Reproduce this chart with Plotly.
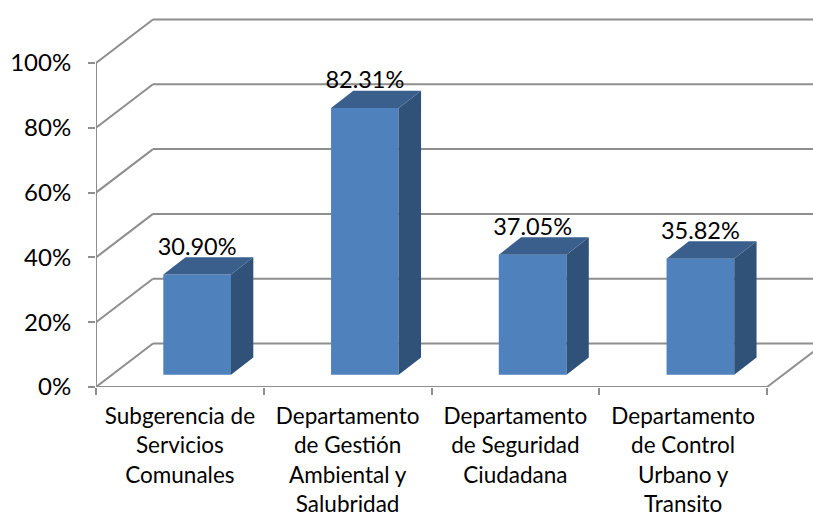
import plotly.graph_objects as go

categories = ["Subgerencia de<br>Servicios<br>Comunales",
              "Departamento<br>de Gestión<br>Ambiental y<br>Salubridad",
              "Departamento<br>de Seguridad<br>Ciudadana",
              "Departamento<br>de Control<br>Urbano y<br>Transito"]
values = [30.90, 82.31, 37.05, 35.82]
labels = ["30.90%", "82.31%", "37.05%", "35.82%"]
y_ticks = [0, 20, 40, 60, 80, 100]
y_tick_labels = ["0%", "20%", "40%", "60%", "80%", "100%"]

FONT = "Lato"
GRID = "#8E8E8E"
FRONT = "#4F81BD"
TOP = "#3A5F8C"
SIDE = "#315278"

n = len(categories)
W, H = 813, 516
L, T, B = 96, 10, 129
x_max = (W - L) / ((767 - L) / n)
y_max = (H - B - T) / 3.24
DX, DY = 57 / 167.75, 43.5 / 3.24
BX, BY = 22.3 / 167.75, 17.3 / 3.24
BAR_W = 67.7 / 167.75
BASE = 3.8
CENTER_SHIFT = 0.103
LABEL_GAP = 8.0


def seg(x0, y0, x1, y1, width=2):
    return dict(type="line", xref="x", yref="y", layer="below",
                x0=x0, y0=y0, x1=x1, y1=y1,
                line=dict(color=GRID, width=width))


shapes = []
for v in y_ticks:
    shapes.append(seg(0, v, DX, v + DY))
    shapes.append(seg(DX, v + DY, x_max + 1, v + DY))
shapes.append(seg(n, 0, n + DX, DY))
shapes.append(seg(0, 0, 0, y_ticks[-1]))
shapes.append(seg(0, 0, n, 0))

centers = [i + 0.5 + CENTER_SHIFT for i in range(n)]

fig = go.Figure()
fig.add_trace(go.Bar(x=centers, y=values, base=BASE,
                     width=BAR_W, marker=dict(color=FRONT, line=dict(width=0)),
                     showlegend=False, hoverinfo="skip"))

for c, v in zip(centers, values):
    x0, x1 = c - BAR_W / 2, c + BAR_W / 2
    top = BASE + v
    fig.add_trace(go.Scatter(
        x=[x1, x1 + BX, x1 + BX, x1, x1], y=[BASE, BASE + BY, top + BY, top, BASE],
        mode="lines", fill="toself", fillcolor=SIDE, line=dict(width=0),
        showlegend=False, hoverinfo="skip"))
    fig.add_trace(go.Scatter(
        x=[x0, x1, x1 + BX, x0 + BX, x0], y=[top, top, top + BY, top + BY, top],
        mode="lines", fill="toself", fillcolor=TOP, line=dict(width=0),
        showlegend=False, hoverinfo="skip"))

fig.add_trace(go.Scatter(
    x=centers, y=[BASE + v + LABEL_GAP for v in values], text=labels, mode="text",
    textposition="middle center",
    textfont=dict(family=FONT, size=23.5, color="black"),
    showlegend=False, hoverinfo="skip", cliponaxis=False))

fig.update_layout(
    width=W, height=H, autosize=False, margin=dict(l=L, r=0, t=T, b=B),
    paper_bgcolor="white", plot_bgcolor="white", shapes=shapes, showlegend=False,
    xaxis=dict(range=[0, x_max], tickmode="array", automargin=False,
               tickvals=[i + 0.5 for i in range(n)], ticktext=categories,
               ticks="outside", ticklen=9, tickcolor="rgba(0,0,0,0)",
               showgrid=False, zeroline=False, showline=False,
               tickfont=dict(family=FONT, size=22.5, color="black"),
               minor=dict(tickmode="array", tickvals=list(range(n + 1)),
                          ticks="outside", ticklen=7, tickwidth=2,
                          tickcolor=GRID, showgrid=False)),
    yaxis=dict(range=[0, y_max], tickmode="array", tickvals=y_ticks, automargin=False,
               ticktext=y_tick_labels, ticks="outside", ticklen=7, tickwidth=2,
               ticklabelstandoff=12,
               tickcolor=GRID, showgrid=False, zeroline=False, showline=False,
               tickfont=dict(family=FONT, size=24, color="black")),
)
fig.write_html("out.html", config=dict(displayModeBar=False),
               post_script="document.body.style.margin='0';")
